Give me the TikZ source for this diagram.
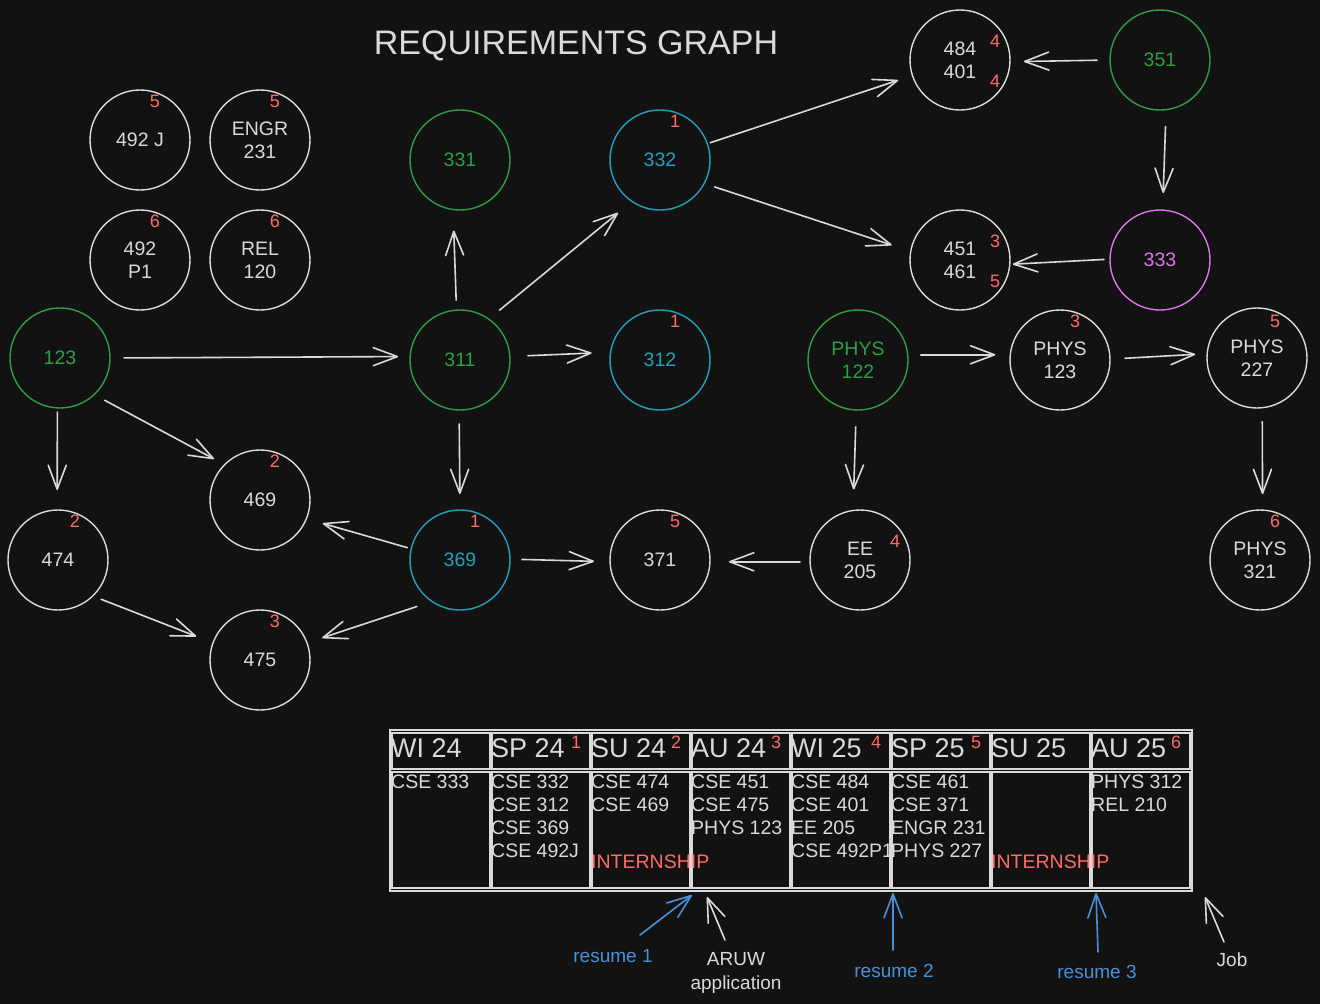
\documentclass[tikz,border=0pt]{standalone}
\usepackage{fontspec}
\setmainfont{Liberation Sans}
\usepackage{xcolor}
\usetikzlibrary{calc,arrows.meta}

\definecolor{bg}{HTML}{121212}
\definecolor{ink}{HTML}{DADADA}
\definecolor{grn}{HTML}{2F9E44}
\definecolor{cyn}{HTML}{22A2BA}
\definecolor{pur}{HTML}{DA77E8}
\definecolor{rd}{HTML}{FF6B6B}
\definecolor{blu}{HTML}{4A90D9}

\tikzset{
	course/.style={circle,draw=#1,text=#1,line width=1.4pt,minimum size=100pt,inner sep=0pt,outer sep=0pt,align=center,font=\fontsize{19.5}{23}\selectfont},
	course/.default=ink,
	badge/.style={text=rd,inner sep=0pt,font=\fontsize{18}{18}\selectfont},
	arr/.style={draw=ink,line width=1.6pt,line cap=round,-{Straight Barb[length=24pt,width=18pt,round]}},
	gap/.style 2 args={shorten <=#1pt,shorten >=#2pt},
	grid/.style={draw=ink,line width=2pt},
	head/.style={text=ink,inner sep=0pt,font=\fontsize{27}{27}\selectfont},
	cell/.style={text=ink,inner sep=0pt,anchor=north west,align=left,font=\fontsize{19.5}{23}\selectfont},
	note/.style={inner sep=0pt,align=center,font=\fontsize{19}{24}\selectfont},
}

\begin{document}
\begin{tikzpicture}[x=1pt,y=-1pt]
	\fill[bg] (0,0) rectangle (1320,1004);
	\useasboundingbox (0,0) rectangle (1320,1004);
	\node[text=ink,inner sep=0pt,font=\fontsize{34}{34}\selectfont] (title) at (576,46) {REQUIREMENTS GRAPH};

	\node[course] (n492j) at (140,140) {492 J};
	\node[course] (nengr) at (260,140) {ENGR\\231};
	\node[course] (n492p) at (140,260) {492\\P1};
	\node[course] (nrel) at (260,260) {REL\\120};
	\node[course=grn] (n123) at (60,358) {123};
	\node[course=grn] (n311) at (460,360) {311};
	\node[course=grn] (n331) at (460,160) {331};
	\node[course=cyn] (n332) at (660,160) {332};
	\node[course=cyn] (n312) at (660,360) {312};
	\node[course=cyn] (n369) at (460,560) {369};
	\node[course] (n469) at (260,500) {469};
	\node[course] (n474) at (58,560) {474};
	\node[course] (n475) at (260,660) {475};
	\node[course] (n371) at (660,560) {371};
	\node[course] (nee) at (860,560) {EE\\205};
	\node[course=grn] (np122) at (858,360) {PHYS\\122};
	\node[course] (np123) at (1060,360) {PHYS\\123};
	\node[course] (np227) at (1257,358) {PHYS\\227};
	\node[course] (np321) at (1260,560) {PHYS\\321};
	\node[course] (n484) at (960,60) {484\\401};
	\node[course] (n451) at (960,260) {451\\461};
	\node[course=grn] (n351) at (1160,60) {351};
	\node[course=pur] (n333) at (1160,260) {333};

	\node[badge] at ([shift={(15,-39)}]n492j.center) {5};
	\node[badge] at ([shift={(15,-39)}]nengr.center) {5};
	\node[badge] at ([shift={(15,-39)}]n492p.center) {6};
	\node[badge] at ([shift={(15,-39)}]nrel.center) {6};
	\node[badge] at ([shift={(15,-39)}]n332.center) {1};
	\node[badge] at ([shift={(15,-39)}]n312.center) {1};
	\node[badge] at ([shift={(15,-39)}]n369.center) {1};
	\node[badge] at ([shift={(15,-39)}]n469.center) {2};
	\node[badge] at ([shift={(17,-39)}]n474.center) {2};
	\node[badge] at ([shift={(15,-39)}]n475.center) {3};
	\node[badge] at ([shift={(15,-39)}]n371.center) {5};
	\node[badge] at ([shift={(35,-19)}]nee.center) {4};
	\node[badge] at ([shift={(15,-39)}]np123.center) {3};
	\node[badge] at ([shift={(18,-37)}]np227.center) {5};
	\node[badge] at ([shift={(15,-39)}]np321.center) {6};
	\node[badge] at ([shift={(35,-19)}]n484.center) {4};
	\node[badge] at ([shift={(35,21)}]n484.center) {4};
	\node[badge] at ([shift={(35,-19)}]n451.center) {3};
	\node[badge] at ([shift={(35,21)}]n451.center) {5};

	\draw[arr,gap={14}{12}] (n123.0) -- (n311.176);
	\draw[arr,gap={4}{20}] (n123.267) -- (n474.91);
	\draw[arr,gap={12}{12}] (n123.313) -- (n469.135);
	\draw[arr,gap={10}{21}] (n311.94) -- (n331.262);
	\draw[arr,gap={14}{18}] (n311.55) -- (n332.236);
	\draw[arr,gap={18}{19}] (n311.4) -- (n312.171);
	\draw[arr,gap={14}{16}] (n311.269) -- (n369.90);
	\draw[arr,gap={3}{15}] (n332.19) -- (n484.198);
	\draw[arr,gap={11}{20}] (n332.332) -- (n451.170);
	\draw[arr,gap={13}{14}] (n351.180) -- (n484.358);
	\draw[arr,gap={17}{17}] (n351.277) -- (n333.87);
	\draw[arr,gap={6}{3}] (n333.179) -- (n451.355);
	\draw[arr,gap={4}{17}] (n369.167) -- (n469.338);
	\draw[arr,gap={12}{16}] (n369.1) -- (n371.182);
	\draw[arr,gap={16}{16}] (n369.236) -- (n475.20);
	\draw[arr,gap={9}{18}] (n474.314) -- (n475.160);
	\draw[arr,gap={10}{19}] (nee.182) -- (n371.358);
	\draw[arr,gap={17}{21}] (np122.268) -- (nee.98);
	\draw[arr,gap={13}{15}] (np122.6) -- (np123.174);
	\draw[arr,gap={15}{12}] (np123.1) -- (np227.175);
	\draw[arr,gap={14}{16}] (np227.276) -- (np321.87);

	\draw[grid] (390,730) rectangle (1192,891);
	\foreach \i/\sem in {0/WI 24,1/SP 24,2/SU 24,3/AU 24,4/WI 25,5/SP 25,6/SU 25,7/AU 25}{
		\pgfmathsetmacro\xl{390+100*\i}
		\draw[grid] (\xl+2,733) rectangle (\xl+100,769);
		\draw[grid] (\xl+2,772) rectangle (\xl+100,888);
		\node[head,anchor=base west] (h\i) at (\xl+1,757) {\sem};
	}
	\foreach \i/\n in {1/1,2/2,3/3,4/4,5/5,7/6}
		\node[badge,anchor=base] at (476+100*\i,748) {\n};

	\node[cell] (b0) at (391,775) {CSE 333};
	\node[cell] (b1) at (491,775) {CSE 332\\CSE 312\\CSE 369\\CSE 492J};
	\node[cell] (b2) at (591,775) {CSE 474\\CSE 469};
	\node[cell] (b3) at (691,775) {CSE 451\\CSE 475\\PHYS 123};
	\node[cell] (b4) at (791,775) {CSE 484\\CSE 401\\EE 205\\CSE 492P1};
	\node[cell] (b5) at (891,775) {CSE 461\\CSE 371\\ENGR 231\\PHYS 227};
	\node[cell] (b7) at (1091,775) {PHYS 312\\REL 210};
	\node[cell,text=rd,anchor=base west] (int1) at (591,868) {INTERNSHIP};
	\node[cell,text=rd,anchor=base west] (int2) at (991,868) {INTERNSHIP};

	\node[note,text=blu] (res1) at (613,956) {resume 1};
	\node[note,text=ink] (aruw) at (736,973) {ARUW\\application};
	\node[note,text=blu] (res2) at (894,971) {resume 2};
	\node[note,text=blu] (res3) at (1097,972) {resume 3};
	\node[note,text=ink] (job) at (1232,960) {Job};

	\coordinate (r1a) at (640,935);
	\coordinate (r1b) at (692,895);
	\coordinate (aruwa) at (725,940);
	\coordinate (aruwb) at (707,897);
	\coordinate (r2a) at (893,950);
	\coordinate (r2b) at (893,893);
	\coordinate (r3a) at (1098,952);
	\coordinate (r3b) at (1096,893);
	\coordinate (joba) at (1224,942);
	\coordinate (jobb) at (1205,897);
	\draw[arr,draw=blu] (r1a) -- (r1b);
	\draw[arr] (aruwa) -- (aruwb);
	\draw[arr,draw=blu] (r2a) -- (r2b);
	\draw[arr,draw=blu] (r3a) -- (r3b);
	\draw[arr] (joba) -- (jobb);
\end{tikzpicture}
\end{document}
